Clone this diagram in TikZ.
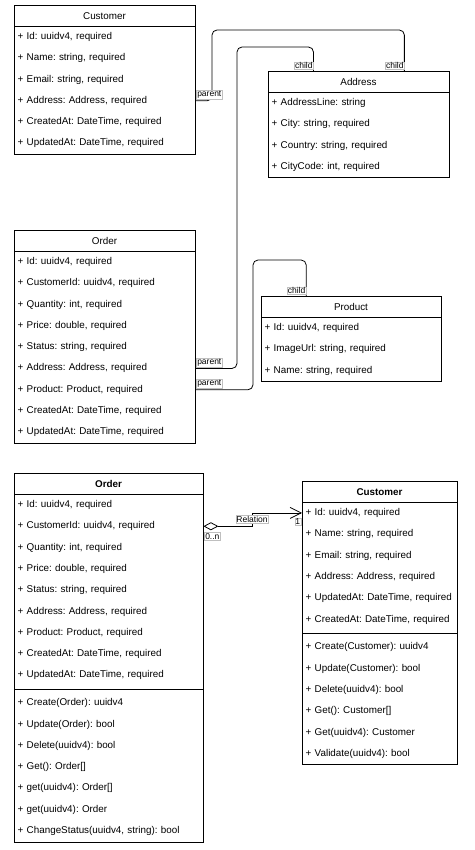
\documentclass[tikz,border=0pt]{standalone}
\usepackage{fontspec}
\setmainfont{Liberation Sans}
\usetikzlibrary{arrows.meta,calc}
\begin{document}
\frenchspacing
\begin{tikzpicture}[x=1pt,y=-1pt,
  box/.style={draw=black, line width=0.8pt, anchor=north west, inner sep=0pt, fill=white},
  rowA/.style={anchor=west, inner xsep=3.5pt, inner ysep=0pt, minimum height=21.3pt, align=left, font=\fontsize{9.85}{11}\selectfont\frenchspacing},
  ttl/.style={font=\fontsize{9.85}{11}\selectfont},
  bttl/.style={font=\fontsize{9.85}{11}\selectfont\bfseries},
  sep/.style={draw=black, line width=0.8pt},
  lbl/.style={fill=white, draw=black!25, line width=0.3pt, inner sep=0.7pt, font=\fontsize{8.5}{9}\selectfont},
  conn/.style={draw=black, line width=0.8pt, rounded corners=5pt},
  rel/.style={draw=black, line width=0.8pt}]
\useasboundingbox (0,0) rectangle (474,850);

% ---------- top Customer ----------
\node[box, minimum width=181pt, minimum height=149.1pt] (cust) at (14,5) {};
\node[ttl] (custT) at (104.5,15.65) {Customer};
\draw[sep] ([yshift=-21.3pt]cust.north west) -- ([yshift=-21.3pt]cust.north east);
\foreach \t [count=\i] in {{+ Id: uuidv4, required},{+ Name: string, required},{+ Email: string, required},{+ Address: Address, required},{+ CreatedAt: DateTime, required},{+ UpdatedAt: DateTime, required}}
  \node[rowA, text width=174pt] (cA-\i) at (14,{26.3+10.65+21.3*(\i-1)}) {\t};

% ---------- Address ----------
\node[box, minimum width=181pt, minimum height=106.5pt] (addr) at (268,71) {};
\node[ttl] (addrT) at (358.5,81.65) {Address};
\draw[sep] ([yshift=-21.3pt]addr.north west) -- ([yshift=-21.3pt]addr.north east);
\foreach \t [count=\i] in {{+ AddressLine: string},{+ City: string, required},{+ Country: string, required},{+ CityCode: int, required}}
  \node[rowA, text width=174pt] (ad-\i) at (268,{92.3+10.65+21.3*(\i-1)}) {\t};

% ---------- top Order ----------
\node[box, minimum width=181pt, minimum height=213pt] (ordA) at (14,230) {};
\node[ttl] (ordAT) at (104.5,240.65) {Order};
\draw[sep] ([yshift=-21.3pt]ordA.north west) -- ([yshift=-21.3pt]ordA.north east);
\foreach \t [count=\i] in {{+ Id: uuidv4, required},{+ CustomerId: uuidv4, required},{+ Quantity: int, required},{+ Price: double, required},{+ Status: string, required},{+ Address: Address, required},{+ Product: Product, required},{+ CreatedAt: DateTime, required},{+ UpdatedAt: DateTime, required}}
  \node[rowA, text width=174pt] (oA-\i) at (14,{251.3+10.65+21.3*(\i-1)}) {\t};

% ---------- Product ----------
\node[box, minimum width=180pt, minimum height=85.2pt] (prod) at (261,296) {};
\node[ttl] (prodT) at (351,306.65) {Product};
\draw[sep] ([yshift=-21.3pt]prod.north west) -- ([yshift=-21.3pt]prod.north east);
\foreach \t [count=\i] in {{+ Id: uuidv4, required},{+ ImageUrl: string, required},{+ Name: string, required}}
  \node[rowA, text width=173pt] (pr-\i) at (261,{317.3+10.65+21.3*(\i-1)}) {\t};

% ---------- top connectors ----------
\coordinate (k1) at (212,30);
\coordinate (k2) at (237,47);
\coordinate (k3) at (253,260);
\coordinate (tA2) at ($(addr.north west)!0.75!(addr.north east)$);
\coordinate (tA1) at ($(addr.north west)!0.25!(addr.north east)$);
\coordinate (tP) at ($(prod.north west)!0.25!(prod.north east)$);
\draw[conn] (cA-4.east) -| (k1) -| (tA2);
\draw[conn] (oA-6.east) -| (k2) -| (tA1);
\draw[conn] (oA-7.east) -| (k3) -| (tP);
\node[lbl, anchor=south west] (lp1) at ([xshift=1pt,yshift=2pt]cA-4.east) {parent};
\node[lbl, anchor=south west] (lp2) at ([xshift=1pt,yshift=1pt]oA-6.east) {parent};
\node[lbl, anchor=south west] (lp3) at ([xshift=1pt,yshift=1.5pt]oA-7.east) {parent};
\node[lbl, anchor=south east] (lc1) at ([yshift=1.5pt]tA1) {child};
\node[lbl, anchor=south east] (lc2) at ([yshift=1.5pt]tA2) {child};
\node[lbl, anchor=south east] (lc3) at ([yshift=1.5pt]tP) {child};

% ---------- bottom Order ----------
\node[box, minimum width=189pt, minimum height=368.6pt] (ordB) at (14,473) {};
\node[bttl] (ordBT) at (108.5,483.65) {Order};
\draw[sep] ([yshift=-21.3pt]ordB.north west) -- ([yshift=-21.3pt]ordB.north east);
\foreach \t [count=\i] in {{+ Id: uuidv4, required},{+ CustomerId: uuidv4, required},{+ Quantity: int, required},{+ Price: double, required},{+ Status: string, required},{+ Address: Address, required},{+ Product: Product, required},{+ CreatedAt: DateTime, required},{+ UpdatedAt: DateTime, required}}
  \node[rowA, text width=182pt] (oB-\i) at (14,{494.3+10.65+21.3*(\i-1)}) {\t};
\draw[sep] ([yshift=-216pt]ordB.north west) -- ([yshift=-216pt]ordB.north east);
\foreach \t [count=\i] in {{+ Create(Order): uuidv4},{+ Update(Order): bool},{+ Delete(uuidv4): bool},{+ Get(): Order[]},{+ get(uuidv4): Order[]},{+ get(uuidv4): Order},{+ ChangeStatus(uuidv4, string): bool}}
  \node[rowA, text width=182pt] (oM-\i) at (14,{692.5+10.65+21.3*(\i-1)}) {\t};

% ---------- bottom Customer ----------
\node[box, minimum width=155pt, minimum height=283.4pt] (custB) at (302,481) {};
\node[bttl] (custBT) at (379.5,491.65) {Customer};
\draw[sep] ([yshift=-21.3pt]custB.north west) -- ([yshift=-21.3pt]custB.north east);
\foreach \t [count=\i] in {{+ Id: uuidv4, required},{+ Name: string, required},{+ Email: string, required},{+ Address: Address, required},{+ UpdatedAt: DateTime, required},{+ CreatedAt: DateTime, required}}
  \node[rowA, text width=148pt] (cB-\i) at (302,{502.3+10.65+21.3*(\i-1)}) {\t};
\draw[sep] ([yshift=-152.4pt]custB.north west) -- ([yshift=-152.4pt]custB.north east);
\foreach \t [count=\i] in {{+ Create(Customer): uuidv4},{+ Update(Customer): bool},{+ Delete(uuidv4): bool},{+ Get(): Customer[]},{+ Get(uuidv4): Customer},{+ Validate(uuidv4): bool}}
  \node[rowA, text width=148pt] (cM-\i) at (302,{636.6+10.65+21.3*(\i-1)}) {\t};

% ---------- relation ----------
\coordinate (rj) at (252,519);
\draw[rel, {Diamond[open,length=15pt,width=8pt]}-{Straight Barb[length=11pt,width=11pt]}] (oB-2.east) -| (rj) |- (cB-1.west);
\node[lbl] (relL) at (rj) {Relation};
\node[lbl, anchor=north west] (mN) at ([xshift=1pt,yshift=-6pt]oB-2.east) {0..n};
\node[lbl, anchor=north east] (m1) at ([xshift=-1pt,yshift=-5pt]cB-1.west) {1};
\end{tikzpicture}
\end{document}
